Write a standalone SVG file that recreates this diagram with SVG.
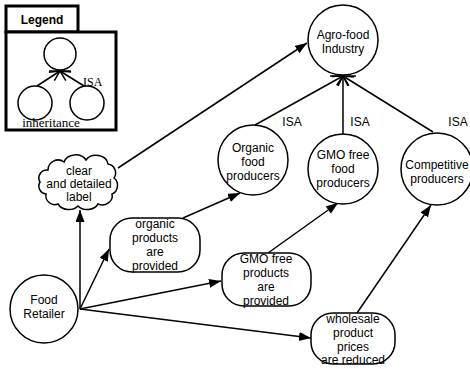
<svg xmlns="http://www.w3.org/2000/svg" width="470" height="369" viewBox="0 0 470 369">
<style>
.n{fill:#fff;stroke:#000;stroke-width:1.5}
.t{font-family:"Liberation Sans",Arial,sans-serif;font-size:12px;text-anchor:middle;fill:#000}
.s{font-family:"Liberation Serif","Times New Roman",serif;font-size:12px;fill:#000}
.c{stroke:#000;stroke-width:1.5;fill:none}
.lg{fill:#fff;stroke:#000;stroke-width:3}
</style>
<defs>
<marker id="ah" markerUnits="userSpaceOnUse" markerWidth="13" markerHeight="10" refX="12" refY="4.5" orient="auto" viewBox="0 0 13 10">
<path d="M0,0 L12,4.5 L0,9 z" fill="#000"/>
</marker>
<marker id="isa" markerUnits="userSpaceOnUse" markerWidth="14" markerHeight="14" refX="12" refY="6" orient="auto" viewBox="0 0 14 12">
<path d="M2,1 L12,6 L2,11" fill="none" stroke="#000" stroke-width="1.5"/>
</marker>
</defs>
<rect width="470" height="369" fill="#fff"/>

<g id="legend">
<rect class="lg" x="6" y="6" width="72" height="26"/>
<rect class="lg" x="6" y="32" width="110" height="98"/>
<text x="42" y="24" style="font-family:'Liberation Sans',Arial,sans-serif;font-size:12px;font-weight:bold;text-anchor:middle">Legend</text>
<circle cx="60" cy="54" r="16" fill="#fff" stroke="#000" stroke-width="1.5"/>
<circle cx="35" cy="103" r="17" fill="#fff" stroke="#000" stroke-width="1.5"/>
<circle cx="87" cy="103" r="17" fill="#fff" stroke="#000" stroke-width="1.5"/>
<line class="c" x1="37" y1="86" x2="60" y2="71" marker-end="url(#isa)"/>
<line class="c" x1="84" y1="86" x2="60" y2="71" marker-end="url(#isa)"/>
<line class="c" x1="49" y1="71" x2="71" y2="71"/>
<text class="s" x="83" y="86">ISA</text>
<text class="s" x="51" y="127" style="font-size:13px;text-anchor:middle">inheritance</text>
</g>

<g id="connectors">
<line class="c" x1="255" y1="125" x2="343" y2="76" marker-end="url(#isa)"/>
<line class="c" x1="343" y1="135" x2="343" y2="76" marker-end="url(#isa)"/>
<line class="c" x1="433" y1="132" x2="343" y2="76" marker-end="url(#isa)"/>
<line class="c" x1="330" y1="76" x2="356" y2="76"/>
<line class="c" x1="118" y1="168" x2="307" y2="43" marker-end="url(#ah)"/>
<line class="c" x1="80" y1="309" x2="80" y2="210" marker-end="url(#ah)"/>
<line class="c" x1="80" y1="309" x2="109" y2="249" marker-end="url(#ah)"/>
<line class="c" x1="80" y1="309" x2="221" y2="281" marker-end="url(#ah)"/>
<line class="c" x1="80" y1="309" x2="311" y2="338" marker-end="url(#ah)"/>
<line class="c" x1="183" y1="218" x2="240" y2="193" marker-end="url(#ah)"/>
<line class="c" x1="268" y1="253" x2="338" y2="203" marker-end="url(#ah)"/>
<line class="c" x1="357" y1="313" x2="431" y2="205" marker-end="url(#ah)"/>
<text class="t" x="292" y="126">ISA</text>
<text class="t" x="360" y="126">ISA</text>
<text class="t" x="458" y="126">ISA</text>
</g>

<g id="agro">
<circle class="n" cx="343" cy="40" r="35"/>
<text class="t" x="343" y="39">Agro-food</text>
<text class="t" x="343" y="53">Industry</text>
</g>

<g id="organic-producers">
<circle class="n" cx="253" cy="160" r="35"/>
<text class="t" x="253" y="152">Organic</text>
<text class="t" x="253" y="166">food</text>
<text class="t" x="253" y="180">producers</text>
</g>

<g id="gmo-producers">
<circle class="n" cx="343" cy="169" r="35"/>
<text class="t" x="343" y="159">GMO free</text>
<text class="t" x="343" y="173">food</text>
<text class="t" x="343" y="187">producers</text>
</g>

<g id="competitive">
<circle class="n" cx="437" cy="169" r="36"/>
<text class="t" x="437" y="169">Competitive</text>
<text class="t" x="437" y="183">producers</text>
</g>

<g id="cloud">
<path class="n" d="M48,170 a10,10 0 0 1 16,-8 a12,10 0 0 1 22,-2 a12,10 0 0 1 22,4 a9,9 0 0 1 6,14 a8,9 0 0 1 -2,16 a10,9 0 0 1 -14,10 a12,10 0 0 1 -20,2 a12,10 0 0 1 -20,-2 a9,9 0 0 1 -12,-10 a8,8 0 0 1 -6,-12 a8,8 0 0 1 8,-12 z"/>
<text class="t" x="79" y="175">clear</text>
<text class="t" x="79" y="188">and detailed</text>
<text class="t" x="79" y="201">label</text>
</g>

<g id="food-retailer">
<circle class="n" cx="44" cy="309" r="34"/>
<text class="t" x="44" y="304">Food</text>
<text class="t" x="44" y="318">Retailer</text>
</g>

<g id="organic-provided">
<rect class="n" x="110" y="218" width="90" height="54" rx="22"/>
<text class="t" x="155" y="228">organic</text>
<text class="t" x="155" y="242">products</text>
<text class="t" x="155" y="256">are</text>
<text class="t" x="155" y="270">provided</text>
</g>

<g id="gmo-provided">
<rect class="n" x="222" y="253" width="89" height="53" rx="22"/>
<text class="t" x="266" y="263">GMO free</text>
<text class="t" x="266" y="277">products</text>
<text class="t" x="266" y="291">are</text>
<text class="t" x="266" y="305">provided</text>
</g>

<g id="wholesale">
<rect class="n" x="311" y="313" width="84" height="51" rx="22"/>
<text class="t" x="353" y="323">wholesale</text>
<text class="t" x="353" y="337">product</text>
<text class="t" x="353" y="351">prices</text>
<text class="t" x="353" y="364">are reduced</text>
</g>
</svg>
